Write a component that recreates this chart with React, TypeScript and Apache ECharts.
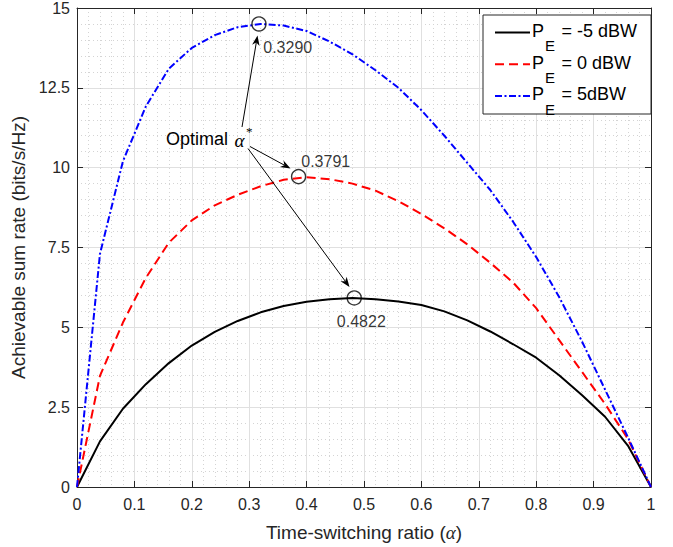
import React, { useEffect, useRef } from "react";
import * as echarts from "echarts";

const alpha = [0, 0.04, 0.08, 0.12, 0.16, 0.2, 0.24, 0.28, 0.32, 0.36, 0.4, 0.44, 0.48, 0.52, 0.56, 0.6, 0.64, 0.68, 0.72, 0.76, 0.8, 0.84, 0.88, 0.92, 0.96, 1];
const rateM5 = [0, 1.43, 2.45, 3.22, 3.88, 4.43, 4.86, 5.2, 5.47, 5.67, 5.8, 5.88, 5.92, 5.88, 5.81, 5.7, 5.5, 5.22, 4.87, 4.47, 4.05, 3.5, 2.87, 2.2, 1.29, 0];
const rate0 = [0, 3.48, 5.15, 6.55, 7.65, 8.35, 8.82, 9.15, 9.42, 9.62, 9.7, 9.64, 9.5, 9.28, 8.95, 8.55, 8.1, 7.6, 7.02, 6.4, 5.6, 4.6, 3.6, 2.6, 1.5, 0];
const rate5 = [0, 7.3, 10.2, 11.92, 13.1, 13.75, 14.15, 14.4, 14.5, 14.45, 14.28, 13.95, 13.55, 13.05, 12.5, 11.8, 11.0, 10.15, 9.3, 8.3, 7.2, 5.95, 4.55, 3.05, 1.55, 0];
const seriesNames = ["P_E = -5 dBW", "P_E = 0 dBW", "P_E = 5dBW"];
const legendRest = ["= -5 dBW", "= 0 dBW", "= 5dBW"];
const optAlpha = [0.317, 0.386, 0.483];
const optRate = [14.5, 9.72, 5.92];
const optLabels = ["0.3290", "0.3791", "0.4822"];

const FONT = "'Liberation Sans', Arial, Helvetica, sans-serif";
const AX = "#262626";

function arrow(x1: number, y1: number, x2: number, y2: number) {
  const dx = x2 - x1, dy = y2 - y1;
  const L = Math.hypot(dx, dy);
  const ux = dx / L, uy = dy / L;
  const hl = 10, hw = 3.8;
  const bx = x2 - ux * hl, by = y2 - uy * hl;
  const nx = x2 - ux * hl * 0.7, ny = y2 - uy * hl * 0.7;
  return [
    { type: "line", shape: { x1, y1, x2: nx, y2: ny }, style: { stroke: "#000", lineWidth: 1 }, z: 20 },
    {
      type: "polygon",
      shape: { points: [[x2, y2], [bx - uy * hw, by + ux * hw], [nx, ny], [bx + uy * hw, by - ux * hw]] },
      style: { fill: "#000" },
      z: 20,
    },
  ];
}

export default function App() {
  const ref = useRef<HTMLDivElement>(null);
  useEffect(() => {
    if (!ref.current) return;
    const chart = echarts.init(ref.current, null, { renderer: "svg" });
    const mk = (ys: number[]) => alpha.map((a, i) => [a, ys[i]]);
    const baseX = { type: "value", min: 0, max: 1, interval: 0.1 };
    const baseY = { type: "value", min: 0, max: 15, interval: 2.5 };
    const legendRows = [31, 62.7, 94.4];
    const legendStyles = [
      { stroke: "#000", lineWidth: 2 },
      { stroke: "#ff0000", lineWidth: 2, lineDash: [9, 5] },
      { stroke: "#0000ff", lineWidth: 2, lineDash: [7, 2.5, 2, 2.5] },
    ];
    const graphic: any[] = [
      { type: "rect", shape: { x: 483, y: 15, width: 168, height: 99 }, style: { fill: "#fff", stroke: AX, lineWidth: 1 }, z: 30 },
    ];
    legendRows.forEach((ry, i) => {
      graphic.push({ type: "line", shape: { x1: 495, y1: ry + 1.5, x2: 530, y2: ry + 1.5 }, style: { ...legendStyles[i], fill: null }, z: 31 });
      graphic.push({ type: "text", x: 532, y: ry, style: { text: "P", fontSize: 18, fontFamily: FONT, fill: "#000", align: "left", verticalAlign: "middle" }, z: 31 });
      graphic.push({ type: "text", x: 545, y: ry + 14.6, style: { text: "E", fontSize: 15, fontFamily: FONT, fill: "#000", align: "left", verticalAlign: "middle" }, z: 31 });
      graphic.push({ type: "text", x: 561.5, y: ry, style: { text: legendRest[i], fontSize: 18, fontFamily: FONT, fill: "#000", align: "left", verticalAlign: "middle" }, z: 31 });
    });
    graphic.push({ type: "text", x: 166, y: 138.5, style: { text: "Optimal", fontSize: 18, fontFamily: FONT, fill: "#000", align: "left", verticalAlign: "middle" }, z: 20 });
    graphic.push({ type: "text", x: 234.5, y: 140, style: { text: "α", fontSize: 19, fontFamily: "'Liberation Serif', 'DejaVu Serif', serif", fontStyle: "italic", fill: "#000", align: "left", verticalAlign: "middle" }, z: 20 });
    graphic.push({ type: "text", x: 246, y: 131, style: { text: "*", fontSize: 13, fontFamily: "'Liberation Serif', serif", fill: "#000", align: "left", verticalAlign: "middle" }, z: 20 });
    graphic.push(...arrow(242, 127, 257.5, 35.5));
    graphic.push(...arrow(250, 146.5, 290.5, 168.5));
    graphic.push(...arrow(248, 148.5, 349.5, 287));

    const labelOffsets = [
      [5, 24],
      [3.4, -14.4],
      [-16.7, 24.3],
    ];

    chart.setOption({
      animation: false,
      grid: { left: 77, right: 22, top: 8, bottom: 59, containLabel: false },
      xAxis: [
        {
          ...baseX,
          position: "bottom",
          axisLine: { show: true, onZero: false, lineStyle: { color: AX, width: 1 } },
          axisTick: { show: true, inside: true, length: 6, lineStyle: { color: AX } },
          axisLabel: { color: AX, fontSize: 16, fontFamily: FONT, margin: 9, formatter: (v: number) => String(Math.round(v * 10) / 10) },
          splitLine: { show: true, lineStyle: { color: "#e0e0e0", width: 1 } },
          minorTick: { show: false, splitNumber: 5 },
          minorSplitLine: { show: true, lineStyle: { color: "#d4d4d4", width: 1, type: [1, 3] } },
          name: "Time-switching ratio ({a|α})",
          nameLocation: "middle",
          nameGap: 36,
          nameTextStyle: {
            color: AX,
            fontSize: 19,
            fontFamily: FONT,
            rich: { a: { color: AX, fontSize: 19, fontFamily: "'Liberation Serif', 'DejaVu Serif', serif", fontStyle: "italic" } },
          },
        },
        {
          ...baseX,
          position: "top",
          axisLine: { show: true, onZero: false, lineStyle: { color: AX, width: 1 } },
          axisTick: { show: true, inside: true, length: 6, lineStyle: { color: AX } },
          axisLabel: { show: false },
          splitLine: { show: false },
        },
      ],
      yAxis: [
        {
          ...baseY,
          position: "left",
          axisLine: { show: true, onZero: false, lineStyle: { color: AX, width: 1 } },
          axisTick: { show: true, inside: true, length: 6, lineStyle: { color: AX } },
          axisLabel: { color: AX, fontSize: 16, fontFamily: FONT, margin: 7 },
          splitLine: { show: true, lineStyle: { color: "#e0e0e0", width: 1 } },
          minorTick: { show: false, splitNumber: 5 },
          minorSplitLine: { show: true, lineStyle: { color: "#d4d4d4", width: 1, type: [1, 3] } },
          name: "Achievable sum rate (bits/s/Hz)",
          nameLocation: "middle",
          nameRotate: 90,
          nameGap: 39,
          nameTextStyle: { color: AX, fontSize: 19, fontFamily: FONT },
        },
        {
          ...baseY,
          position: "right",
          axisLine: { show: true, onZero: false, lineStyle: { color: AX, width: 1 } },
          axisTick: { show: true, inside: true, length: 6, lineStyle: { color: AX } },
          axisLabel: { show: false },
          splitLine: { show: false },
        },
      ],
      series: [
        {
          name: seriesNames[0],
          type: "line",
          data: mk(rateM5),
          symbol: "none",
          lineStyle: { color: "#000000", width: 2 },
          itemStyle: { color: "#000000" },
          z: 3,
        },
        {
          name: seriesNames[1],
          type: "line",
          data: mk(rate0),
          symbol: "none",
          lineStyle: { color: "#ff0000", width: 2, type: [9, 5] },
          itemStyle: { color: "#ff0000" },
          z: 3,
        },
        {
          name: seriesNames[2],
          type: "line",
          data: mk(rate5),
          symbol: "none",
          lineStyle: { color: "#0000ff", width: 2, type: [7, 2.5, 2, 2.5] },
          itemStyle: { color: "#0000ff" },
          z: 3,
        },
        {
          name: "Optimal",
          type: "scatter",
          silent: true,
          symbol: "circle",
          symbolSize: 14,
          z: 6,
          itemStyle: { color: "rgba(0,0,0,0)", borderColor: "#000", borderWidth: 1.4 },
          data: optAlpha.map((a, i) => ({
            value: [a, optRate[i]],
            label: {
              show: true,
              formatter: optLabels[i],
              position: [labelOffsets[i][0] + 7, labelOffsets[i][1] + 7],
              align: "left",
              verticalAlign: "middle",
              fontSize: 16,
              fontFamily: FONT,
              color: "#000",
            },
          })),
        },
      ],
      graphic,
    });
    return () => chart.dispose();
  }, []);
  return <div ref={ref} style={{ position: "fixed", left: 0, top: 0, width: 673, height: 547, background: "#fff" }} />;
}
